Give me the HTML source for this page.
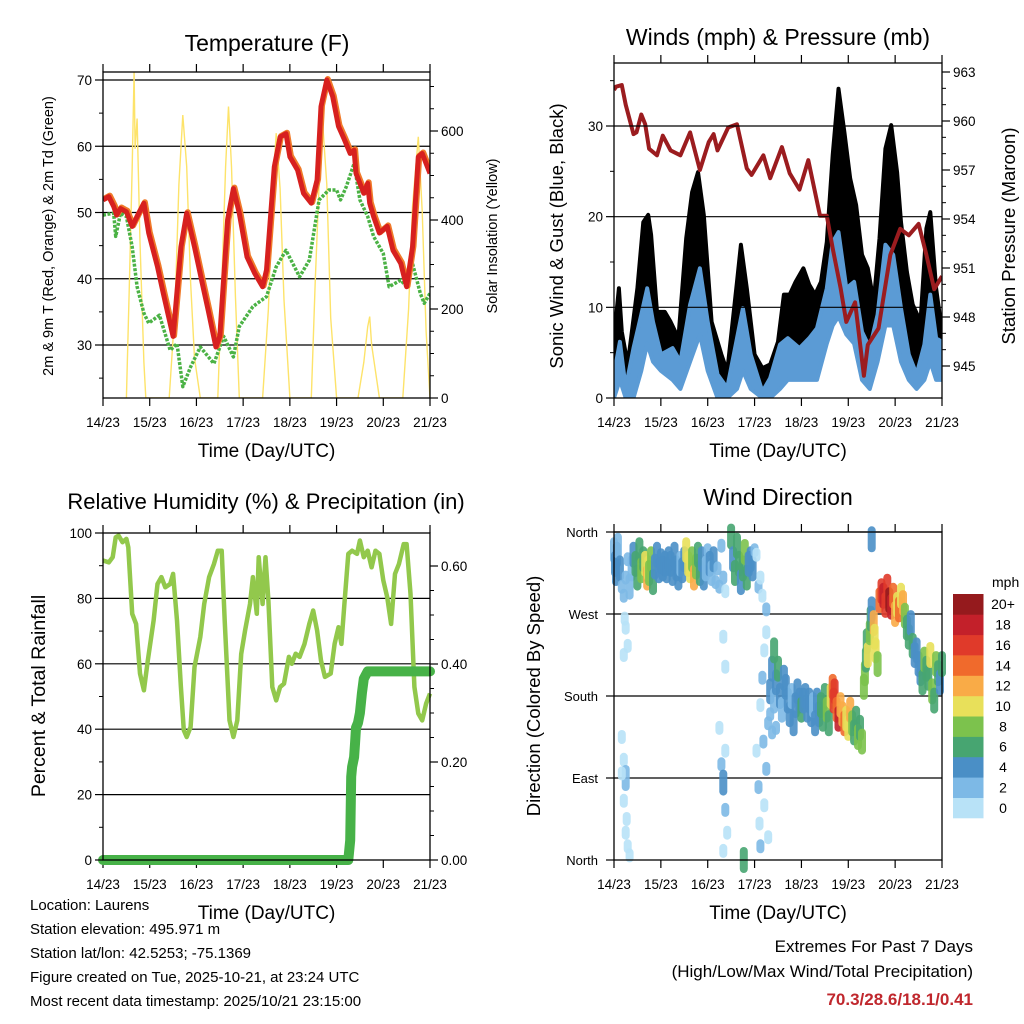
<!DOCTYPE html>
<html><head><meta charset="utf-8">
<style>
body{margin:0;background:#fff;}
svg{display:block;font-family:"Liberation Sans",Arial,sans-serif;}
</style></head>
<body>
<svg id="root" width="1024" height="1024" viewBox="0 0 1024 1024" xmlns="http://www.w3.org/2000/svg">
<defs>
<clipPath id="windClip"><rect x="614" y="63" width="328" height="335"/></clipPath>
<clipPath id="tempClip"><rect x="103" y="72" width="327" height="326"/></clipPath>
</defs>
<g id="panels"></g>
<g font-size="15" fill="#000">
<text x="30" y="910">Location: Laurens</text>
<text x="30" y="934">Station elevation: 495.971 m</text>
<text x="30" y="958">Station lat/lon: 42.5253; -75.1369</text>
<text x="30" y="982">Figure created on Tue, 2025-10-21, at 23:24 UTC</text>
<text x="30" y="1006">Most recent data timestamp: 2025/10/21 23:15:00</text>
</g>
<g text-anchor="end">
<text x="973" y="952" font-size="17">Extremes For Past 7 Days</text>
<text x="973" y="977" font-size="17">(High/Low/Max Wind/Total Precipitation)</text>
<text x="973" y="1005" font-size="17" font-weight="bold" fill="#c0272d">70.3/28.6/18.1/0.41</text>
</g>
</svg>
<script>
// ---------- DATA ----------
const dayLabels = ["14/23","15/23","16/23","17/23","18/23","19/23","20/23","21/23"];
// Temperature (hours since 14/23, deg F)
const tempHours = [0,3,5.5,7,9,12,15,17.5,21,23.5,28,31,36,40,43,47,51,54,58,60,64,67,70,74,78,82,84,88,91,94,96,100,103,107,110,112,115,118,121,124,127,129,130,134,136,137,139,142,146,149,153,156,159,162,164,166,168];
const tempVals = [51.9,52.4,50.9,49.6,50.6,50.1,47.9,49.4,51.4,46.9,41.8,37.8,31.3,44.8,49.9,44.8,39.3,35.3,29.7,31.3,48.9,53.6,49.9,43.3,40.8,38.8,41.3,56.9,61.4,61.9,58.4,56.4,52.9,51.4,54.9,66,70,67.5,63,61,58.9,59.4,55.9,52.9,54.4,51.4,49.4,46.9,47.9,44.3,42.3,38.8,44.8,58.4,58.9,57.4,55.9];
const dewHours = [0,5.5,6.5,9,12,15,17.5,21,23.5,29,34.5,38,41,45,50,57,62,67,70,77,84,89,94,101,106,111,116,120,122,125,129,132,136,139,144,147,153,156,159,163,165,168];
const dewVals = [49.6,49.9,46.4,49.9,49.4,44.8,38.8,34.8,33.3,34.5,29.2,30.2,23.7,26.7,29.7,27.2,31.3,28.2,32.8,35.8,37.3,41.8,44.3,40.3,42.8,51.9,53.4,53.4,51.9,53.9,57.4,51.9,49.4,46.4,43.8,38.8,39.8,38.8,42.3,37.8,36.3,37.8];
const solarHours = [12,13.5,15,16,16.5,17.5,19,21,22,34,37,39,41,43,45,47,50,59,61,63,64.5,66,68,70,82,85,87,89,91,93,96,107,109,111,113,115,117,120,131,134,136,137,138,140,142,154,157,159,162,164,166,168];
const solarVals = [0,250,520,733,560,628,350,80,0,0,200,480,636,520,260,90,0,0,250,520,655,520,230,0,0,200,450,595,470,220,0,0,260,480,610,480,180,0,0,80,160,183,120,60,0,0,200,430,587,420,150,0];
// Winds
const presHours = [0,1,4,6,10,11.5,14,16,18,22,25,29,34,39,44,48.5,51,53,58.5,63,68,70.5,76.5,80,86,90,95,99.5,105.5,109,112,116,119,123.5,128,130,135.5,141.5,146.6,151,156,160,164,168];
const presVals = [961.9,962.1,962.2,961,959.2,959.3,960.4,959.8,958.3,957.9,959.1,958.2,957.9,959.3,957,958.7,959.2,958.2,959.6,959.8,957.1,956.7,957.9,956.5,958.4,956.8,955.8,957.6,954.2,954.2,952.2,949.8,947.7,948.9,944.4,946.3,947.3,951.8,953.4,953,953.7,951.8,949.7,950.5];
const gustHours = [0,2.5,4,7,12,15,17.5,19,22,26,29,33,37,40,43,46,50,55,58,63,65,68,72,76,80,84,87,90,93,97,100,103,106,109,112,115,118,121,124,127,130,133,136,139,142,145,147,150,153,157,160,162,165,168];
const gustVals = [6.6,12.1,7.3,3.7,12.1,19.4,20.2,18,9.5,9.5,8.4,6.6,17.6,22.7,24.9,20.2,8.4,4.8,2.9,12.8,16.9,12.1,4.8,3.3,3.7,6.2,11.4,11.4,12.8,14.3,12.5,11.4,12.8,17.2,26.8,34.1,29.3,24.2,21.3,15.8,14.3,10.6,17.6,27.5,30.1,24.9,19.4,13.9,10.3,8.4,18.7,20.5,12.1,7.3];
const windHours = [0,3,6,10,14,17,20,24,30,34,39,44,48,53,58,63,66,70,76,80,85,89,95,100,104,109,112,115,119,123,127,131,135,139,143,147,151,155,159,162,165,168];
const windHigh = [2.6,6.2,1.1,5.5,9.2,12.1,8.4,4.8,5.5,4,10.3,14.3,8.4,2.6,1.1,6.6,9.9,4.8,0.7,2.2,5.9,6.6,5.5,6.6,7.7,12.1,17.2,18.3,12.1,12.8,7.3,5.5,9.2,16.9,15.8,9.9,4.8,2.6,5.9,11.4,6.6,6.2];
const windLow = [0,2,0,0,3,6,4,3,2,1,4,7,3,0,0,1,3,1,0,0,1,2,2,2,2,6,8,9,7,6,2,1,4,8,8,4,2,1,2,4,2,2];
// Relative humidity / precip
const rhHours = [0,3,5,6.5,8,10,12,13,15,17,19,21,23,26,28,30,32,34.5,36,38,40,41.5,43,45,47,50,52,54.5,57,59,61,62.5,65,67,69,71,73,75.5,77,79,80,82,83.5,85,87,89,91,93,95.5,97,99,101,103.5,106,108,110,112,114,117,119,121,122.5,124,126,128,130.5,132,134,136,138,140,142,144,146,148,150,152,154.5,156,158,160,162,164,166,168];
const rhVals = [91.6,91,92.6,98.7,99.2,97.2,98.2,95.6,75.3,72.2,57,51.9,61,73.2,84.4,86.5,83.4,84.4,87.5,73.2,52.9,39.7,37.6,40.7,59,68.2,78.3,86.5,90.5,94.6,94.6,73.2,42.7,37.6,42.7,63,70.2,78.3,86.5,75.3,92.6,78.3,92.6,79.3,52.9,48.8,52.9,53.9,62.1,60,63.1,62.1,66.1,72.2,76.3,70.2,61,56,57,66.1,71.2,66.1,78.3,93.6,94.6,93.6,97.7,92.6,94.6,89.5,94.6,93.6,85.5,80.4,72.2,87.5,90.5,96.6,96.6,81.4,52.9,44.8,42.7,47.8,50.9];
const rainHours = [0,30,60,90,120,126,127,127.5,128,129,129.5,130,131,132,132.5,133,134,136,142,155,168];
const rainVals = [0,0,0,0,0,0,0.04,0.17,0.19,0.21,0.24,0.27,0.28,0.30,0.32,0.34,0.37,0.385,0.385,0.385,0.385];
// Wind direction (hours, degrees, mph)
const dirHours = [0,0.5,1,1.5,2,3,4,5,6,7,8,9,10,11,12,13,14,15,16,17,17.5,18,19,20,21,22,23,24,25,26,27,28,29,30,31,32,33,34,35,36,37,38,39,40,41,42,43,44,45,46,47,48,49,50,51,52,53,54,55,56,57,60,61,62,63,64,65,66,67,68,69,70,71,72,73,74,75,76,78,
4,5,6,4,5,6,6.5,7,8,5,6,7,5.5,54,55,56,57,58,56,57,56,57,66.5,
73,74,74.5,75,75,76,76.5,77,77,78,78,79,79,80,80,81,81,82,82,83,83,84,85,86,87,88,89,90,91,92,93,94,95,96,97,98,99,100,101,102,103,104,105,106,107,108,109,110,111,112,112.5,113,114,115,116,117,118,119,120,121,122,123,124,125,126,127,
128,128.5,129,129.5,130,131,131.5,132,132,133,133.5,134,135,136,137,138,139,140,141,142,143,144,145,146,147,148,149,150,151,152,153,154,155,156,157,158,159,160,161,162,163,164,165,166,167,168];
const dirDeg = [340,325,315,335,345,320,300,290,310,330,300,320,335,325,310,340,318,330,325,310,320,315,330,305,322,335,318,328,320,325,318,330,325,315,335,320,310,325,318,330,340,325,318,330,310,322,335,315,330,310,320,340,325,315,330,305,320,300,345,310,295,355,330,315,345,325,305,320,338,310,325,330,320,340,335,300,310,290,275,
135,110,90,95,65,30,45,15,5,225,255,235,265,145,105,85,55,30,10,120,245,212,0,
120,80,40,15,170,200,130,60,230,100,250,25,150,185,160,210,140,175,230,195,145,210,180,165,200,190,175,160,180,150,170,185,175,165,175,180,165,175,160,170,150,175,160,170,155,180,165,150,180,190,175,185,165,155,170,160,150,155,145,165,150,140,155,135,145,130,
190,205,220,240,225,250,265,275,352,260,245,230,215,285,295,290,280,300,285,278,290,270,280,275,290,282,268,255,245,260,235,225,230,215,205,195,220,210,200,225,185,175,215,205,195,215];
const dirSpeed = [3,4,4,4,3,4,2,2,2,2,3,3,4,6,7,6,8,7,10,12,11,9,8,6,4,4,4,4,4,4,4,5,4,4,4,4,4,3,4,5,10,11,10,9,12,8,7,6,4,4,3,2,4,3,4,2,2,2,2,2,1,6,5,6,7,7,5,7,8,6,5,4,4,2,1,2,1,1,2,
1,1,3,1,1,1,1,1,1,1,1,1,1,1,2,4,2,1,1,1,1,1,6,
1,2,1,2,1,2,2,1,1,2,1,1,2,4,2,4,2,3,6,4,2,6,4,3,5,4,4,4,3,4,5,4,4,6,5,4,4,4,4,3,5,5,4,7,6,7,8,6,10,15,17,16,14,19,13,12,14,10,10,12,9,7,7,8,6,8,
8,9,6,7,10,8,6,4,4,12,10,11,9,14,16,18,17,16,20,18,14,12,11,14,10,12,9,7,6,5,6,4,4,5,4,6,8,6,7,10,8,6,9,6,4,6];
const speedLabels = ["0","2","4","6","8","10","12","14","16","18","20+"];
const speedColors = ["#b8e2f7","#7db9e6","#4a8fc6","#47a571","#7cc24d","#e8e05a","#f9ab47","#f06a2c","#e03a2a","#c3202a","#951a1d"];

// ---------- HELPERS ----------
const NS = "http://www.w3.org/2000/svg";
const root = document.getElementById("panels");
function mk(tag, attrs, parent) {
  const e = document.createElementNS(NS, tag);
  for (const k in attrs) e.setAttribute(k, attrs[k]);
  (parent || root).appendChild(e);
  return e;
}
function txt(str, attrs, parent) { const t = mk("text", attrs, parent); t.textContent = str; return t; }
function linScale(d0, d1, r0, r1) { return v => r0 + (v - d0) / (d1 - d0) * (r1 - r0); }
function pathFrom(xs, ys, sx, sy) {
  return xs.map((h, i) => (i ? "L" : "M") + sx(h).toFixed(1) + "," + sy(ys[i]).toFixed(1)).join("");
}

function panelFrame(g, L, R, T, B, sx, title, tx, ty, tsize) {
  const t = txt(title, {x: tx, y: ty, "font-size": tsize, "text-anchor": "middle"}, g);
  
  
  for (let d = 0; d <= 7; d++) {
    const x = sx(d * 24);
    const tk = mk("line", {x1: x, x2: x, y1: B, y2: B + 8, stroke: "#000", "stroke-width": 1.2}, g);
    
    
    const tk2 = mk("line", {x1: x, x2: x, y1: T, y2: T - 8, stroke: "#000", "stroke-width": 1.2}, g);
    
    
    const lb = txt(dayLabels[d], {x: x, y: B + 29, "font-size": 13.5, "text-anchor": "middle"}, g);
    
    
  }
  const xt = txt("Time (Day/UTC)", {x: (L + R) / 2, y: B + 59, "font-size": 19, "text-anchor": "middle"}, g);
  
  
}
function border(g, L, R, T, B) {
  const r = mk("rect", {x: L, y: T, width: R - L, height: B - T, fill: "none", stroke: "#000", "stroke-width": 1.3}, g);
  
  
}
function yTicks(g, x, vals, sy, labels, side, minor) {
  vals.forEach((v, i) => {
    const y = sy(v);
    const d = side === "left" ? -8 : 8;
    const tk = mk("line", {x1: x, x2: x + d, y1: y, y2: y, stroke: "#000", "stroke-width": 1.2}, g);
    
    
    const lb = txt(labels[i], {x: side === "left" ? x - 11 : x + 11, y: y + 5, "font-size": 13.5, "text-anchor": side === "left" ? "end" : "start"}, g);
    
    
  });
  (minor || []).forEach(v => {
    const y = sy(v);
    const d = side === "left" ? -4 : 4;
    const tk = mk("line", {x1: x, x2: x + d, y1: y, y2: y, stroke: "#000", "stroke-width": 1}, g);
    
    
  });
}
function grid(g, L, R, ys) {
  ys.forEach(y => {
    const l = mk("line", {x1: L, x2: R, y1: y, y2: y, stroke: "#000", "stroke-width": 1.2}, g);
    
    
  });
}
function vtitle(g, str, x, y, size) {
  const t = txt(str, {x: 0, y: 0, "font-size": size, "text-anchor": "middle", transform: `translate(${x},${y}) rotate(-90)`}, g);
  
  
  return t;
}
function band(g, hours, hi, lo, sx, sy, color, name, sw) {
  let d = pathFrom(hours, hi, sx, sy);
  for (let i = hours.length - 1; i >= 0; i--) d += "L" + sx(hours[i]).toFixed(1) + "," + sy(lo[i]).toFixed(1);
  const p = mk("path", {d: d + "Z", fill: color, stroke: color, "stroke-width": sw === undefined ? 4 : sw, "stroke-linejoin": "round"}, g);
  
  
}

// ---------- TEMPERATURE PANEL ----------
(function () {
  const g = mk("g", {});
  
  
  const L = 103, R = 430, T = 72, B = 398;
  const sx = linScale(0, 168, L, R);
  const sy = linScale(30, 70, 345, 80);
  const sSolar = linScale(0, 600, 398, 131);
  panelFrame(g, L, R, T, B, sx, "Temperature (F)", 267, 51, 23);
  grid(g, L, R, [30, 40, 50, 60, 70].map(sy));
  const inner = mk("g", {"clip-path": "url(#tempClip)"}, g);
  
  
  const sol = mk("path", {d: pathFrom(solarHours, solarVals, sx, sSolar), fill: "none", stroke: "#fde36a", "stroke-width": 1.4}, inner);
  
  
  const dew = mk("path", {d: pathFrom(dewHours, dewVals, sx, sy), fill: "none", stroke: "#4bb245", "stroke-width": 3.5, "stroke-dasharray": "3 1.5", "stroke-linejoin": "round"}, inner);
  
  
  const t9 = mk("path", {d: pathFrom(tempHours, tempVals, sx, sy), fill: "none", stroke: "#f07a2a", "stroke-width": 6, "stroke-linejoin": "round", transform: "translate(1,-1)"}, inner);
  
  
  const t2 = mk("path", {d: pathFrom(tempHours, tempVals, sx, sy), fill: "none", stroke: "#d7201f", "stroke-width": 5, "stroke-linejoin": "round"}, inner);
  
  
  border(g, L, R, T, B);
  yTicks(g, L, [30, 40, 50, 60, 70], sy, ["30", "40", "50", "60", "70"], "left", [25, 35, 45, 55, 65]);
  yTicks(g, R, [0, 200, 400, 600], sSolar, ["0", "200", "400", "600"], "right", [50,100,150,250,300,350,450,500,550,650,700]);
  vtitle(g, "2m & 9m T (Red, Orange) & 2m Td (Green)", 53, 236, 14.5);
  vtitle(g, "Solar Insolation (Yellow)", 497, 236, 14.5);
})();

// ---------- WIND PANEL ----------
(function () {
  const g = mk("g", {});
  
  
  const L = 614, R = 942, T = 63, B = 398;
  const sx = linScale(0, 168, L, R);
  const sy = linScale(0, 30, 398, 126);
  const sp = linScale(945, 963, 366, 72);
  panelFrame(g, L, R, T, B, sx, "Winds (mph) & Pressure (mb)", 778, 45, 23);
  const inner = mk("g", {"clip-path": "url(#windClip)"}, g);
  
  
  band(inner, gustHours, gustVals, gustHours.map(() => 0), sx, sy, "#000", "gust-band");
  band(inner, windHours, windLow, windHours.map(() => -2), sx, sy, "#fff", "calm-gap", 0);
  grid(g, L, R, [10, 20, 30].map(sy));
  band(inner, windHours, windHigh, windLow, sx, sy, "#5b9bd5", "wind-band");
  const pr = mk("path", {d: pathFrom(presHours, presVals, sx, sp), fill: "none", stroke: "#9b1c1f", "stroke-width": 4, "stroke-linejoin": "round"}, inner);
  
  
  border(g, L, R, T, B);
  yTicks(g, L, [0, 10, 20, 30], sy, ["0", "10", "20", "30"], "left", [5, 15, 25, 35]);
  yTicks(g, R, [945, 948, 951, 954, 957, 960, 963], sp, ["945", "948", "951", "954", "957", "960", "963"], "right", [946,947,949,950,952,953,955,956,958,959,961,962]);
  vtitle(g, "Sonic Wind & Gust (Blue, Black)", 563, 236, 18.5);
  vtitle(g, "Station Pressure (Maroon)", 1015, 236, 18.5);
})();

// ---------- RH PANEL ----------
(function () {
  const g = mk("g", {});
  
  
  const L = 103, R = 430, T = 533, B = 860;
  const sx = linScale(0, 168, L, R);
  const sy = linScale(0, 100, 860, 533);
  const sr = linScale(0, 0.6, 860, 566);
  panelFrame(g, L, R, T, B, sx, "Relative Humidity (%) & Precipitation (in)", 266, 509, 22);
  grid(g, L, R, [20, 40, 60, 80].map(sy));
  const rh = mk("path", {d: pathFrom(rhHours, rhVals, sx, sy), fill: "none", stroke: "#92c84c", "stroke-width": 4.5, "stroke-linejoin": "round"}, g);
  
  
  const rn = mk("path", {d: pathFrom(rainHours, rainVals, sx, sr), fill: "none", stroke: "#47b248", "stroke-width": 10, "stroke-linejoin": "round", "stroke-linecap": "round"}, g);
  
  
  border(g, L, R, T, B);
  yTicks(g, L, [0, 20, 40, 60, 80, 100], sy, ["0", "20", "40", "60", "80", "100"], "left", [10, 30, 50, 70, 90]);
  yTicks(g, R, [0, 0.2, 0.4, 0.6], sr, ["0.00", "0.20", "0.40", "0.60"], "right", [0.05,0.1,0.15,0.25,0.3,0.35,0.45,0.5,0.55]);
  vtitle(g, "Percent & Total Rainfall", 45, 696, 19.5);
})();

// ---------- WIND DIRECTION PANEL ----------
(function () {
  const g = mk("g", {});
  
  
  const L = 614, R = 942, T = 532, B = 860;
  const sx = linScale(0, 168, L, R);
  const sy = linScale(0, 360, 860, 532);
  panelFrame(g, L, R, T, B, sx, "Wind Direction", 778, 505, 23);
  grid(g, L, R, [90, 180, 270, 360].map(sy));
  dirHours.forEach((h, i) => {
    const s = dirSpeed[i];
    const bin = Math.min(10, Math.floor(s / 2));
    const cx = sx(h), cy = sy(dirDeg[i]);
    const ext = s >= 3 ? 9 : 3;
    const c = mk("line", {x1: cx.toFixed(1), x2: cx.toFixed(1), y1: (cy - ext).toFixed(1), y2: (cy + ext).toFixed(1), stroke: speedColors[bin], "stroke-width": 8, "stroke-linecap": "round", "stroke-opacity": 0.9}, g);
    
    
  });
  border(g, L, R, T, B);
  const dl = ["North", "East", "South", "West", "North"];
  [0, 90, 180, 270, 360].forEach((v, i) => {
    const y = sy(v);
    const tk = mk("line", {x1: L, x2: L - 8, y1: y, y2: y, stroke: "#000", "stroke-width": 1.2}, g);
    
    
    const lb = txt(dl[i], {x: L - 16, y: y + 5, "font-size": 13, "text-anchor": "end"}, g);
    
    
  });
  vtitle(g, "Direction (Colored By Speed)", 540, 696, 18.5);
  // colorbar
  const cb = mk("g", {}, g);
  
  
  const u = txt("mph", {x: 992, y: 587, "font-size": 14}, cb);
  
  
  const bh = 224 / speedColors.length;
  speedColors.forEach((c, i) => {
    const y = 594 + (speedColors.length - 1 - i) * bh;
    const r = mk("rect", {x: 953, y: y.toFixed(1), width: 30.5, height: (bh + 0.3).toFixed(1), fill: c}, cb);
    
    
    const lb = txt(speedLabels[i], {x: 1003, y: (y + bh / 2 + 5).toFixed(1), "font-size": 14, "text-anchor": "middle"}, cb);
    
    
  });
})();
</script>
</body></html>
